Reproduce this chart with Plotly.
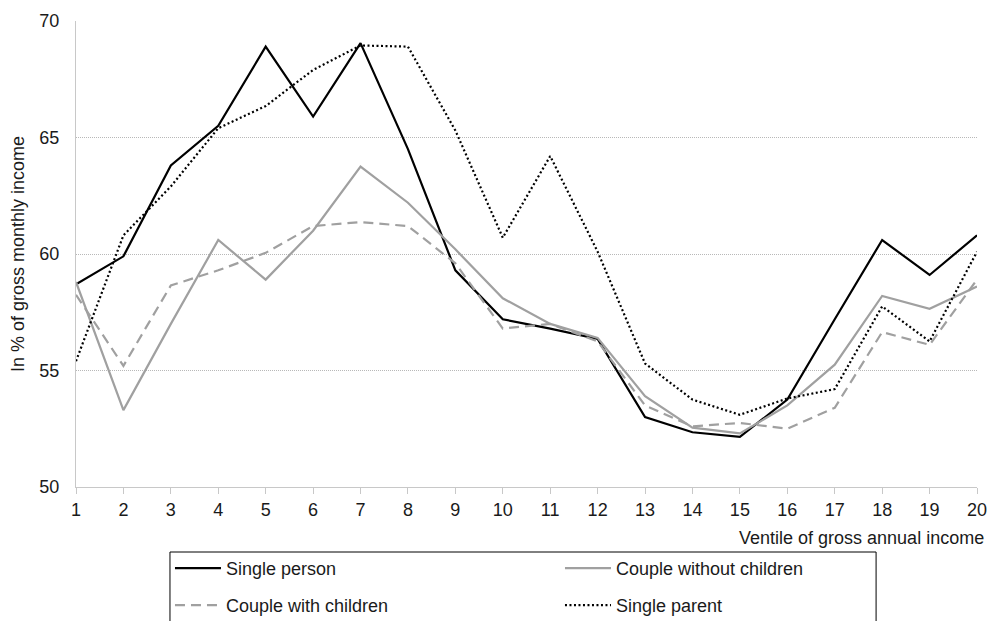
import plotly.graph_objects as go

ventiles = list(range(1, 21))
single_person = [58.7, 59.9, 63.8, 65.5, 68.9, 65.9, 69.05, 64.5, 59.3, 57.2, 56.8, 56.35, 53.0, 52.35, 52.15, 53.75, 57.2, 60.6, 59.1, 60.8]
couple_no_children = [58.8, 53.3, 57.0, 60.6, 58.9, 61.0, 63.75, 62.2, 60.2, 58.1, 57.0, 56.4, 53.9, 52.55, 52.3, 53.5, 55.25, 58.2, 57.65, 58.6]
couple_with_children = [58.25, 55.2, 58.65, 59.3, 60.05, 61.2, 61.37, 61.2, 59.6, 56.8, 57.0, 56.25, 53.5, 52.6, 52.75, 52.5, 53.4, 56.65, 56.1, 58.9]
single_parent = [55.4, 60.8, 62.9, 65.4, 66.35, 67.9, 68.95, 68.9, 65.3, 60.7, 64.2, 60.1, 55.3, 53.75, 53.1, 53.8, 54.2, 57.75, 56.25, 60.1]
series_names = ["Single person", "Couple without children", "Couple with children", "Single parent"]
y_ticks = [50, 55, 60, 65, 70]

font_family = "Liberation Sans, Arial, sans-serif"
txt = "#1a1a1a"
black = "#000000"
gray = "#a0a0a0"

fig = go.Figure()
fig.add_trace(go.Scatter(x=ventiles, y=single_person, name=series_names[0], mode="lines",
                         legend="legend", line=dict(color=black, width=2.2)))
fig.add_trace(go.Scatter(x=ventiles, y=couple_no_children, name=series_names[1], mode="lines",
                         legend="legend", line=dict(color=gray, width=2.2)))
fig.add_trace(go.Scatter(x=ventiles, y=couple_with_children, name=series_names[2], mode="lines",
                         legend="legend2", line=dict(color=gray, width=2.2, dash="10px,6px")))
fig.add_trace(go.Scatter(x=ventiles, y=single_parent, name=series_names[3], mode="lines",
                         legend="legend2", line=dict(color=black, width=2.2, dash="2px,2.5px")))

legend_common = dict(orientation="h", x=0.1043, xanchor="left", yanchor="top",
                     entrywidth=329, itemwidth=46, borderwidth=0, bgcolor="rgba(0,0,0,0)",
                     font=dict(size=18, family=font_family, color=txt), tracegroupgap=0)

fig.update_layout(
    width=992, height=621,
    margin=dict(l=76, r=15, t=21, b=134, autoexpand=False),
    paper_bgcolor="white", plot_bgcolor="white",
    font=dict(family=font_family, size=18, color=txt),
    showlegend=True,
    legend=dict(y=-0.1352, **legend_common),
    legend2=dict(y=-0.2146, **legend_common),
    xaxis=dict(range=[1, 20], tickmode="array", tickvals=ventiles,
               ticktext=[str(v) for v in ventiles],
               showgrid=False, zeroline=False, automargin=False,
               showline=True, linecolor="#c8c8c8", linewidth=1,
               ticks="outside", ticklen=6, tickcolor="#c8c8c8",
               tickfont=dict(size=18)),
    yaxis=dict(range=[50, 70], tickmode="array", tickvals=y_ticks,
               showgrid=True, gridcolor="#b8b8b8", griddash="1px,1px", gridwidth=1,
               zeroline=False, showline=True, linecolor="#c8c8c8", linewidth=1,
               automargin=False, ticks="", ticklabelstandoff=12, tickfont=dict(size=18)),
    shapes=[dict(type="rect", xref="paper", yref="paper",
                 x0=0.1043, x1=0.888, y0=-0.1395, y1=-0.32,
                 line=dict(color="#000000", width=1), fillcolor="rgba(0,0,0,0)")],
    annotations=[
        dict(text="Ventile of gross annual income", x=1, xref="paper", xanchor="right",
             xshift=9, y=0, yref="paper", yanchor="middle", yshift=-51,
             showarrow=False, font=dict(size=18)),
        dict(text="In % of gross monthly income", x=0, xref="paper", xanchor="center",
             xshift=-58, y=0.5, yref="paper", yanchor="middle", textangle=-90,
             showarrow=False, font=dict(size=18)),
    ],
)

fig.write_html("out.html", config={"displayModeBar": False},
               post_script="document.body.style.margin='0';document.body.style.overflow='hidden';")
